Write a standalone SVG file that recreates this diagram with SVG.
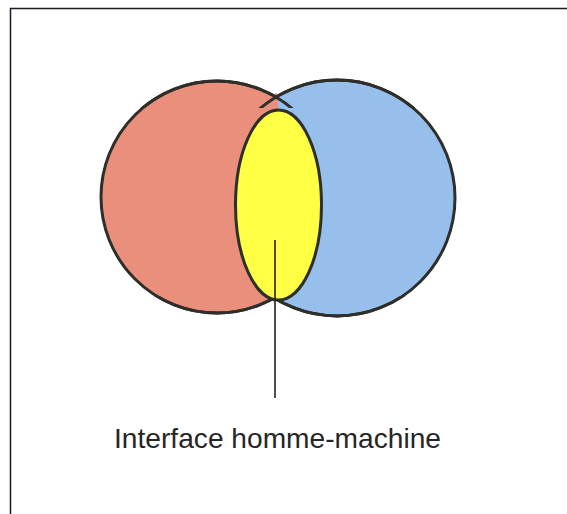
<svg xmlns="http://www.w3.org/2000/svg" width="567" height="514" viewBox="0 0 567 514">
<style>
.shape{stroke:#2e2e2a;stroke-width:3}
.red{fill:#EA8F7C}
.blue{fill:#97BFEB}
.lbl{font-family:"Liberation Sans",Arial,sans-serif;font-size:28px;fill:#262626}
</style>
<defs>
<clipPath id="cA"><circle cx="217" cy="197" r="119.5"/></clipPath>
<clipPath id="cB"><circle cx="337" cy="198" r="121.5"/></clipPath>
<clipPath id="tips"><rect x="0" y="0" width="567" height="108"/><rect x="0" y="296" width="567" height="100"/></clipPath>
</defs>
<rect x="0" y="0" width="567" height="514" fill="#fff"/>
<g id="frame"><path d="M10.5,520 V8.5 H570" fill="none" stroke="#1a1a2a" stroke-width="1.5"/></g>
<g id="left-circle"><circle class="shape red" cx="217" cy="197" r="116"/></g>
<g id="right-circle"><circle class="shape blue" cx="337" cy="198" r="118"/></g>
<g id="lens" clip-path="url(#cA)"><g clip-path="url(#cB)">
<rect class="red" x="200" y="90" width="78" height="220"/>
<rect class="blue" x="278" y="90" width="80" height="220"/>
</g></g>
<g id="tip-arcs" clip-path="url(#tips)" fill="none">
<circle class="shape" cx="217" cy="197" r="116"/>
<circle class="shape" cx="337" cy="198" r="118"/>
</g>
<g id="intersection"><ellipse class="shape" cx="278.5" cy="205" rx="43" ry="95" fill="#FFFF44"/></g>
<g id="connectors"><line x1="275" y1="240" x2="275" y2="398" stroke="#222" stroke-width="1.6"/></g>
<g id="label"><text class="lbl" x="114" y="448" textLength="327" lengthAdjust="spacingAndGlyphs">Interface homme-machine</text></g>
</svg>
